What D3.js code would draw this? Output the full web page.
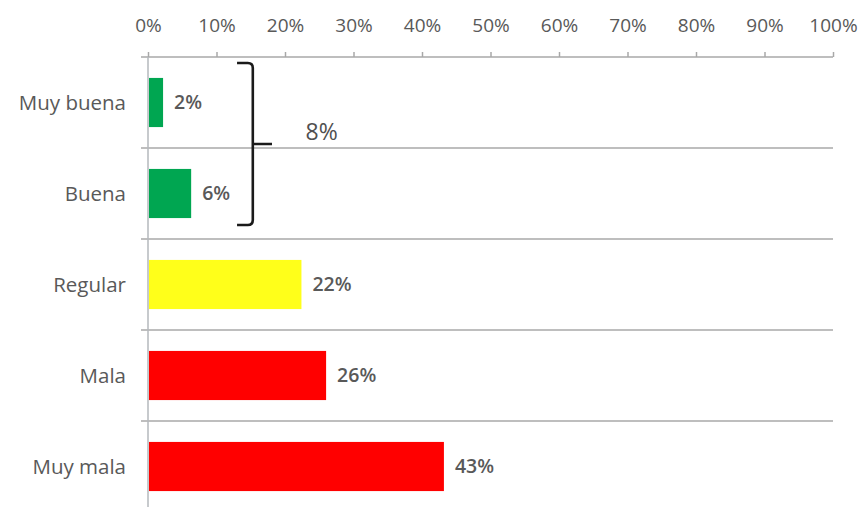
<!DOCTYPE html>
<html><head><meta charset="utf-8">
<script src="https://cdn.jsdelivr.net/npm/d3@7"></script>
<style>html,body{margin:0;padding:0;background:#fff;}svg{display:block;}</style>
</head><body>
<svg id="chart" width="861" height="507"></svg>
<script>
const categories = ["Muy buena", "Buena", "Regular", "Mala", "Muy mala"];
const values = [2.2, 6.3, 22.4, 26.0, 43.2];
const barColors = ["#00A651", "#00A651", "#FFFF1A", "#FF0000", "#FF0000"];
const tickValues = [0, 10, 20, 30, 40, 50, 60, 70, 80, 90, 100];
const groupLabel = "8%";
const groupCats = ["Muy buena", "Buena"];

const svg = d3.select("#chart");
const font = "'Open Sans', 'Noto Sans', sans-serif";
const textColor = "#595959";
const gridColor = "#a8a8a8";

const x = d3.scaleLinear().domain([0, 100]).range([148, 833]);
const yRow = d3.scaleBand().domain(categories).range([57, 512]).padding(0);
const y = d3.scaleBand().domain(categories).range([57, 512]).paddingInner(0.46).paddingOuter(0.23);

// top axis line
svg.append("line").attr("x1", x(0) - 7).attr("x2", x(100)).attr("y1", 57).attr("y2", 57)
  .attr("stroke", gridColor).attr("stroke-width", 1.5);

// top axis ticks & labels
const ax = svg.append("g").attr("transform", "translate(0,57)")
  .call(d3.axisTop(x).tickValues(tickValues).tickSize(5).tickPadding(20).tickFormat(d => d + "%"));
ax.select(".domain").remove();
ax.selectAll(".tick line").attr("stroke", gridColor).attr("stroke-width", 1.5);
ax.selectAll(".tick text").attr("fill", textColor).style("font-family", font)
  .style("font-size", "19px").style("font-weight", 500);

// row separators
svg.append("g").selectAll("line").data(categories.slice(1)).join("line")
  .attr("x1", x(0) - 7).attr("x2", x(100))
  .attr("y1", d => yRow(d)).attr("y2", d => yRow(d))
  .attr("stroke", gridColor).attr("stroke-width", 1.5);

// vertical axis line
svg.append("line").attr("x1", x(0)).attr("x2", x(0)).attr("y1", 57).attr("y2", 507)
  .attr("stroke", "#b4b8bc").attr("stroke-width", 1.5);

// bars
svg.append("g").selectAll("rect").data(categories).join("rect")
  .attr("x", x(0) + 1)
  .attr("y", d => y(d))
  .attr("width", (d, i) => x(values[i]) - x(0) - 1)
  .attr("height", y.bandwidth())
  .attr("fill", (d, i) => barColors[i]);

// value labels
svg.append("g").selectAll("text").data(categories).join("text")
  .attr("x", (d, i) => x(values[i]) + 11)
  .attr("y", d => y(d) + y.bandwidth() / 2)
  .attr("dy", "0.35em")
  .attr("fill", textColor).style("font-family", font).style("font-size", "19.5px").style("font-weight", 600)
  .text((d, i) => Math.round(values[i]) + "%");

// category labels
svg.append("g").selectAll("text").data(categories).join("text")
  .attr("x", x(0) - 22)
  .attr("y", d => yRow(d) + yRow.bandwidth() / 2)
  .attr("dy", "0.35em")
  .attr("text-anchor", "end")
  .attr("fill", textColor).style("font-family", font).style("font-size", "20.5px").style("font-weight", 500)
  .text(d => d);

// bracket annotation
const bx = x(15.3), bl = x(13.0), br = x(18.1);
const bTop = yRow(groupCats[0]) + 6;
const bBot = yRow(groupCats[1]) + 77;
const bMid = yRow(groupCats[1]) - 4;
const r = 5;
const path = d3.path();
path.moveTo(bl, bTop);
path.lineTo(bx - r, bTop);
path.quadraticCurveTo(bx, bTop, bx, bTop + r);
path.lineTo(bx, bBot - r);
path.quadraticCurveTo(bx, bBot, bx - r, bBot);
path.lineTo(bl, bBot);
path.moveTo(bx, bMid);
path.lineTo(br, bMid);
svg.append("path").attr("d", path.toString()).attr("fill", "none")
  .attr("stroke", "#1a1a1a").attr("stroke-width", 2.6);

svg.append("text")
  .attr("x", x(23.0)).attr("y", bMid - 4)
  .attr("fill", "#505050").style("font-family", font).style("font-size", "23px").style("font-weight", 500)
  .text(groupLabel);
</script>
</body></html>
